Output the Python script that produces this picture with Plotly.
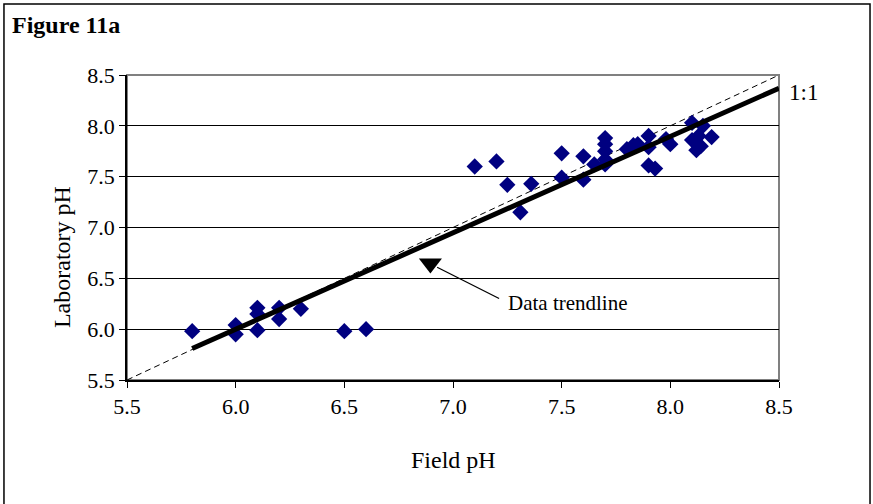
import plotly.graph_objects as go

# Data
field_ph = [5.80, 6.00, 6.00, 6.10, 6.10, 6.10, 6.20, 6.20, 6.30, 6.50, 6.60,
            7.10, 7.20, 7.25, 7.36, 7.31, 7.50, 7.50, 7.60, 7.60, 7.65,
            7.70, 7.70, 7.70, 7.70, 7.70, 7.80, 7.83, 7.85, 7.90, 7.90, 7.90,
            7.93, 7.98, 8.00, 8.10, 8.15, 8.19, 8.10, 8.12, 8.14, 8.13]
lab_ph = [5.98, 6.04, 5.95, 6.21, 6.15, 5.99, 6.21, 6.10, 6.20, 5.98, 6.00,
          7.60, 7.65, 7.42, 7.43, 7.15, 7.73, 7.49, 7.70, 7.47, 7.62,
          7.88, 7.82, 7.75, 7.67, 7.62, 7.77, 7.81, 7.82, 7.90, 7.79, 7.61,
          7.58, 7.87, 7.82, 8.03, 8.00, 7.89, 7.86, 7.76, 7.80, 7.90]

trend_x = [5.80, 8.50]
trend_y = [5.81, 8.37]

one_to_one_x = [5.5, 8.5]
one_to_one_y = [5.5, 8.5]

tick_vals = [5.5, 6.0, 6.5, 7.0, 7.5, 8.0, 8.5]
tick_text = ["5.5", "6.0", "6.5", "7.0", "7.5", "8.0", "8.5"]

# annotation arrow (data coords)
arrow_tip = (6.896, 6.647)
arrow_line_from = (7.219, 6.294)
arrow_line_to = (6.927, 6.609)
label_pos = (7.242, 6.257)

FONT = "Liberation Serif, Times New Roman, serif"

fig = go.Figure()

fig.add_trace(go.Scatter(
    x=one_to_one_x, y=one_to_one_y, mode="lines",
    line=dict(color="black", width=1, dash="6px,4px"),
    hoverinfo="skip", showlegend=False))

fig.add_trace(go.Scatter(
    x=field_ph, y=lab_ph, mode="markers",
    marker=dict(symbol="diamond", size=12.5, color="#000080",
                line=dict(width=0)),
    showlegend=False))

fig.add_trace(go.Scatter(
    x=trend_x, y=trend_y, mode="lines",
    line=dict(color="black", width=5),
    showlegend=False))

fig.add_trace(go.Scatter(
    x=[arrow_tip[0]], y=[arrow_tip[1]], mode="markers",
    marker=dict(symbol="triangle-down", size=20, color="black"),
    showlegend=False, cliponaxis=False))

fig.add_annotation(
    x=arrow_line_to[0], y=arrow_line_to[1], ax=arrow_line_from[0], ay=arrow_line_from[1],
    axref="x", ayref="y", xref="x", yref="y", text="", showarrow=True,
    arrowhead=0, arrowwidth=1.3, arrowcolor="black")

fig.add_annotation(
    x=label_pos[0], y=label_pos[1], xref="x", yref="y", text="Data trendline",
    showarrow=False, xanchor="left", yanchor="middle",
    font=dict(family=FONT, size=21, color="black"))

fig.add_annotation(
    x=1.013, y=0.941, xref="paper", yref="paper", text="1:1",
    showarrow=False, xanchor="left", yanchor="middle",
    font=dict(family=FONT, size=23, color="black"))

fig.add_annotation(
    x=-0.1794, y=1.164, xref="paper", yref="paper", text="<b>Figure 11a</b>",
    showarrow=False, xanchor="left", yanchor="middle",
    font=dict(family=FONT, size=24, color="black"))

fig.add_annotation(
    x=-0.0997, y=0.403, xref="paper", yref="paper", text="Laboratory pH",
    showarrow=False, textangle=-90, xanchor="center", yanchor="middle",
    font=dict(family=FONT, size=24, color="black"))

fig.add_annotation(
    x=0.5015, y=-0.262, xref="paper", yref="paper", text="Field pH",
    showarrow=False, xanchor="center", yanchor="middle",
    font=dict(family=FONT, size=24, color="black"))

# plot-area gray border
fig.add_shape(type="rect", xref="paper", yref="paper", x0=0, y0=0, x1=1, y1=1,
              line=dict(color="#808080", width=2), layer="below")
# outer figure border
fig.add_shape(type="rect", xref="paper", yref="paper",
              x0=-0.1887, y0=-0.42, x1=1.1396, y1=1.2328,
              line=dict(color="black", width=1.5), layer="above")

axis_common = dict(
    range=[5.5, 8.5], tickmode="array", tickvals=tick_vals, ticktext=tick_text,
    ticks="outside", ticklen=6, tickcolor="black", tickwidth=1,
    showline=True, linecolor="black", linewidth=1.5,
    tickfont=dict(family=FONT, size=22, color="black"),
    zeroline=False, fixedrange=True,
)

fig.update_xaxes(**axis_common, showgrid=False)
fig.update_yaxes(**axis_common, showgrid=True, gridcolor="black", gridwidth=1)

fig.update_layout(
    width=873, height=504,
    margin=dict(l=127, r=94, t=75, b=124),
    paper_bgcolor="white", plot_bgcolor="white",
    showlegend=False,
)

fig.write_html("out.html", config={"displayModeBar": False},
               post_script="document.body.style.margin='0';document.body.style.overflow='hidden';")
